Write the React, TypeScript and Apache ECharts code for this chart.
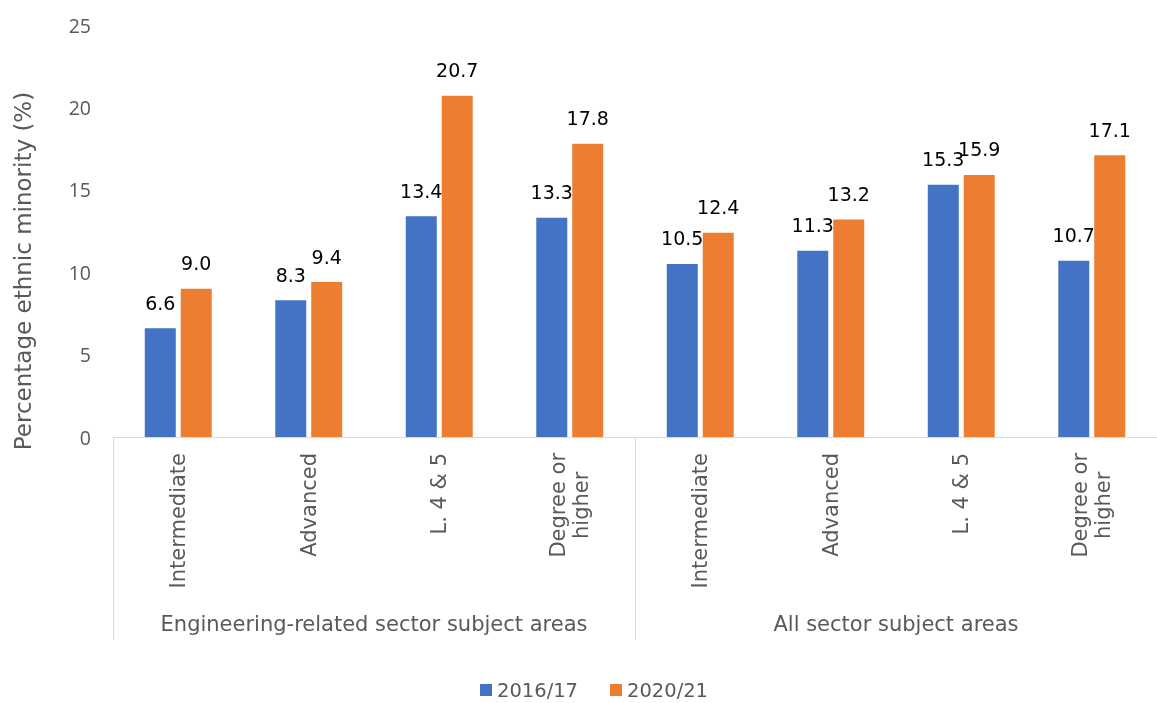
import React, { useEffect, useRef } from "react";
import * as echarts from "echarts";

const categories = [
  "Intermediate", "Advanced", "L. 4 & 5", "Degree or\nhigher",
  "Intermediate", "Advanced", "L. 4 & 5", "Degree or\nhigher",
];
const groups = ["Engineering-related sector subject areas", "All sector subject areas"];
const series2016 = [6.6, 8.3, 13.4, 13.3, 10.5, 11.3, 15.3, 10.7];
const series2020 = [9.0, 9.4, 20.7, 17.8, 12.4, 13.2, 15.9, 17.1];
const seriesNames = ["2016/17", "2020/21"];

const FONT = "DejaVu Sans";
const GREY = "#595959";

export default function App() {
  const ref = useRef<HTMLDivElement>(null);
  useEffect(() => {
    const chart = echarts.init(ref.current!, null, { renderer: "svg" });
    const labelCfg = {
      show: true,
      position: "top",
      distance: 16,
      color: "#000",
      fontFamily: FONT,
      fontSize: 19,
      formatter: (p: any) => Number(p.value).toFixed(1),
    };
    chart.setOption({
      animation: false,
      textStyle: { fontFamily: FONT },
      grid: { left: 113, right: 0, top: 25, bottom: 266, containLabel: false },
      legend: {
        top: 675,
        left: 475,
        icon: "rect",
        itemWidth: 12,
        itemHeight: 12,
        itemGap: 32,
        textStyle: { color: GREY, fontSize: 19.5, fontFamily: FONT, lineHeight: 20 },
        data: seriesNames,
      },
      xAxis: [
        {
          type: "category",
          data: categories,
          position: "bottom",
          axisLine: { show: true, lineStyle: { color: "#d9d9d9", width: 1 } },
          axisTick: { show: false },
          axisLabel: {
            rotate: 90,
            margin: 16,
            color: GREY,
            fontSize: 21,
            fontFamily: FONT,
            lineHeight: 23,
            interval: 0,
            formatter: (v: string) =>
              v.split("\n").map((s) => "{c|" + s + "}").join("\n"),
            rich: {
              c: { align: "center", color: GREY, fontSize: 21, fontFamily: FONT, lineHeight: 23 },
            },
          },
        },
        {
          type: "category",
          data: groups,
          position: "bottom",
          axisLine: { show: false },
          axisTick: { show: true, length: 203, lineStyle: { color: "#d9d9d9" } },
          axisLabel: {
            margin: 176,
            color: GREY,
            fontSize: 21,
            fontFamily: FONT,
            interval: 0,
          },
        },
      ],
      yAxis: {
        type: "value",
        min: 0,
        max: 25,
        interval: 5,
        name: "Percentage ethnic minority (%)",
        nameLocation: "middle",
        nameGap: 79,
        nameTextStyle: { color: GREY, fontSize: 23, fontFamily: FONT, padding: [0, 80, 0, 0] },
        axisLine: { show: false },
        axisTick: { show: false },
        splitLine: { show: false },
        axisLabel: { color: GREY, fontSize: 19.5, fontFamily: "Open Sans", margin: 22 },
      },
      series: [
        {
          name: seriesNames[0],
          type: "bar",
          data: series2016,
          itemStyle: { color: "#4472C4" },
          barWidth: 31,
          barGap: "16%",
          label: labelCfg,
        },
        {
          name: seriesNames[1],
          type: "bar",
          data: series2020,
          itemStyle: { color: "#ED7D31" },
          barWidth: 31,
          barGap: "16%",
          label: labelCfg,
        },
      ],
    });
    return () => chart.dispose();
  }, []);
  return (
    <div
      ref={ref}
      style={{ position: "fixed", left: 0, top: 0, width: 1157, height: 703 }}
    />
  );
}
